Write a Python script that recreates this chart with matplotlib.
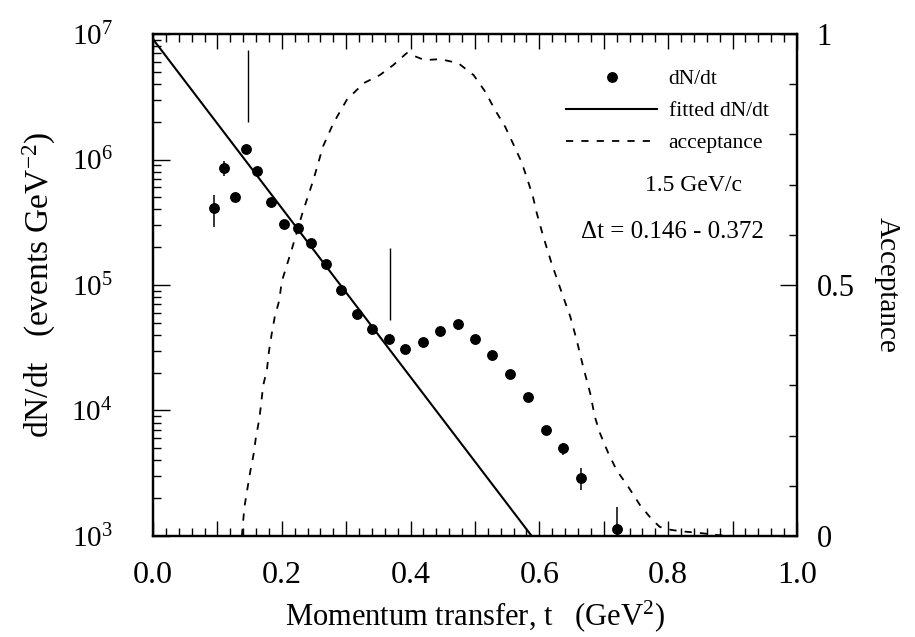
import numpy as np
import matplotlib
matplotlib.use("Agg")
import matplotlib.pyplot as plt
from matplotlib.ticker import MultipleLocator, FixedLocator, FuncFormatter

plt.rcParams["font.family"] = ["Liberation Serif", "DejaVu Serif"]
plt.rcParams["mathtext.fontset"] = "custom"
plt.rcParams["mathtext.rm"] = "Liberation Serif"
plt.rcParams["mathtext.it"] = "Liberation Serif:italic"

# measured dN/dt points (t in GeV^2)
t_data = [0.095, 0.111, 0.127, 0.144, 0.162, 0.183, 0.203, 0.225, 0.246, 0.269,
          0.292, 0.317, 0.340, 0.366, 0.392, 0.419, 0.446, 0.473, 0.500, 0.527,
          0.554, 0.582, 0.610, 0.637, 0.664, 0.720]
dndt = [4.1e5, 8.5e5, 5.0e5, 1.22e6, 8.1e5, 4.6e5, 3.06e5, 2.83e5, 2.15e5, 1.48e5,
        9.1e4, 5.9e4, 4.5e4, 3.73e4, 3.07e4, 3.5e4, 4.3e4, 4.86e4, 3.69e4, 2.77e4,
        1.94e4, 1.27e4, 7.0e3, 5.0e3, 2.88e3, 1.13e3]
err_lo = [2.9e5, 7.4e5, 4.9e5, 1.19e6, 7.9e5, 4.5e5, 3.0e5, 2.77e5, 2.1e5, 1.45e5,
          8.9e4, 5.8e4, 4.4e4, 3.65e4, 3.0e4, 3.43e4, 4.2e4, 4.75e4, 3.6e4, 2.7e4,
          1.88e4, 1.22e4, 6.5e3, 4.4e3, 2.33e3, 5.0e2]
err_hi = [5.2e5, 9.7e5, 5.1e5, 1.25e6, 8.3e5, 4.7e5, 3.12e5, 2.89e5, 2.2e5, 1.51e5,
          9.3e4, 6.0e4, 4.6e4, 3.81e4, 3.14e4, 3.57e4, 4.4e4, 4.97e4, 3.78e4, 2.84e4,
          2.0e4, 1.32e4, 7.5e3, 5.5e3, 3.48e3, 1.69e3]

# fitted exponential (straight line on log scale)
fit_t = [0.0, 0.588]
fit_val = [9.1e6, 1.0e3]

# delta-t fit range markers
dt_t = [0.148, 0.368]
dt_lo = [1.98e6, 5.3e4]
dt_hi = [7.47e6, 1.97e5]

# acceptance curve (right axis)
acc_t = [0.138, 0.142, 0.151, 0.156, 0.160, 0.165, 0.168, 0.171, 0.177, 0.180,
         0.184, 0.189, 0.196, 0.200, 0.216, 0.232, 0.249, 0.264, 0.280, 0.301,
         0.327, 0.352, 0.373, 0.394, 0.422, 0.446, 0.474, 0.498, 0.516, 0.531,
         0.547, 0.559, 0.572, 0.581, 0.590, 0.596, 0.604, 0.611, 0.619, 0.628,
         0.636, 0.648, 0.658, 0.668, 0.679, 0.686, 0.694, 0.707, 0.720, 0.738,
         0.756, 0.774, 0.787, 0.805, 0.823, 0.849, 0.875, 0.900]
acc = [0.0, 0.058, 0.128, 0.161, 0.198, 0.232, 0.264, 0.299, 0.332, 0.367,
       0.400, 0.436, 0.469, 0.507, 0.573, 0.643, 0.709, 0.776, 0.822, 0.869,
       0.902, 0.918, 0.938, 0.962, 0.948, 0.950, 0.942, 0.918, 0.885, 0.849,
       0.815, 0.782, 0.746, 0.712, 0.676, 0.643, 0.606, 0.576, 0.543, 0.510,
       0.480, 0.437, 0.390, 0.337, 0.284, 0.238, 0.205, 0.165, 0.131, 0.098,
       0.062, 0.034, 0.018, 0.012, 0.009, 0.006, 0.002, 0.0]

fig = plt.figure(figsize=(9.15, 6.37), dpi=100)
ax = fig.add_axes([0.1672, 0.1586, 0.7038, 0.788])
ax2 = ax.twinx()

t = np.array(t_data)
y = np.array(dndt)
ax.errorbar(t, y, yerr=[y - np.array(err_lo), np.array(err_hi) - y],
            fmt="none", ecolor="black", elinewidth=1.1, capsize=0)
pts, = ax.plot(t, y, "o", color="black", ms=6.8, label="dN/dt")
fit, = ax.plot(fit_t, fit_val, "-", color="black", lw=1.5, label="fitted dN/dt")
ax.vlines(dt_t, dt_lo, dt_hi, color="black", lw=1.0)

accl, = ax2.plot(acc_t, acc, color="black", lw=1.3, dashes=(4, 4.5),
                 label="acceptance")

ax.set_yscale("log")
ax.set_ylim(1e3, 1e7)
ax.set_xlim(0, 1)
ax2.set_ylim(0, 1)

ax.xaxis.set_major_locator(MultipleLocator(0.1))
ax.xaxis.set_minor_locator(MultipleLocator(0.02))
ax.xaxis.set_major_formatter(FuncFormatter(
    lambda v, p: f"{v:.1f}" if round(v * 10) % 2 == 0 else ""))
ax.tick_params(axis="x", which="both", direction="in", top=True, width=1.0)
ax.tick_params(axis="x", which="major", length=11, pad=18, labelsize=23)
ax.tick_params(axis="x", which="minor", length=5.5)
ax.tick_params(axis="y", which="both", direction="in", right=False, width=1.0)
ax.tick_params(axis="y", which="major", length=12, pad=29, labelsize=21)
ax.tick_params(axis="y", which="minor", length=5.5)

ax2.yaxis.set_major_locator(FixedLocator([0, 0.5, 1]))
ax2.yaxis.set_minor_locator(MultipleLocator(0.1))
ax2.yaxis.set_major_formatter(FuncFormatter(lambda v, p: f"{v:g}"))
ax2.tick_params(axis="y", which="both", direction="in", width=1.0)
ax2.tick_params(axis="y", which="major", length=12, pad=14, labelsize=22)
ax2.tick_params(axis="y", which="minor", length=5.5)

for a in (ax, ax2):
    for s in a.spines.values():
        s.set_linewidth(1.6)

ax.set_xlabel("Momentum transfer, t   (GeV$^2$)", fontsize=22, labelpad=6)
ax.set_ylabel("dN/dt   (events GeV$^{-2}$)", fontsize=24, labelpad=10)
ax2.set_ylabel("Acceptance", fontsize=21, rotation=270, va="bottom", labelpad=14)

ax2.legend(handles=[pts, fit, accl], loc="upper left",
           bbox_to_anchor=(0.642, 0.930), frameon=False, fontsize=15.5,
           handlelength=4.2, handletextpad=0.55, labelspacing=0.55,
           borderpad=0, borderaxespad=0)

ax2.text(0.839, 0.699, "1.5 GeV/c", transform=ax2.transAxes,
         ha="center", va="center", fontsize=17)
ax2.text(0.806, 0.606, "\u0394t = 0.146 - 0.372", transform=ax2.transAxes,
         ha="center", va="center", fontsize=18)

fig.savefig("out.png", dpi=100)
